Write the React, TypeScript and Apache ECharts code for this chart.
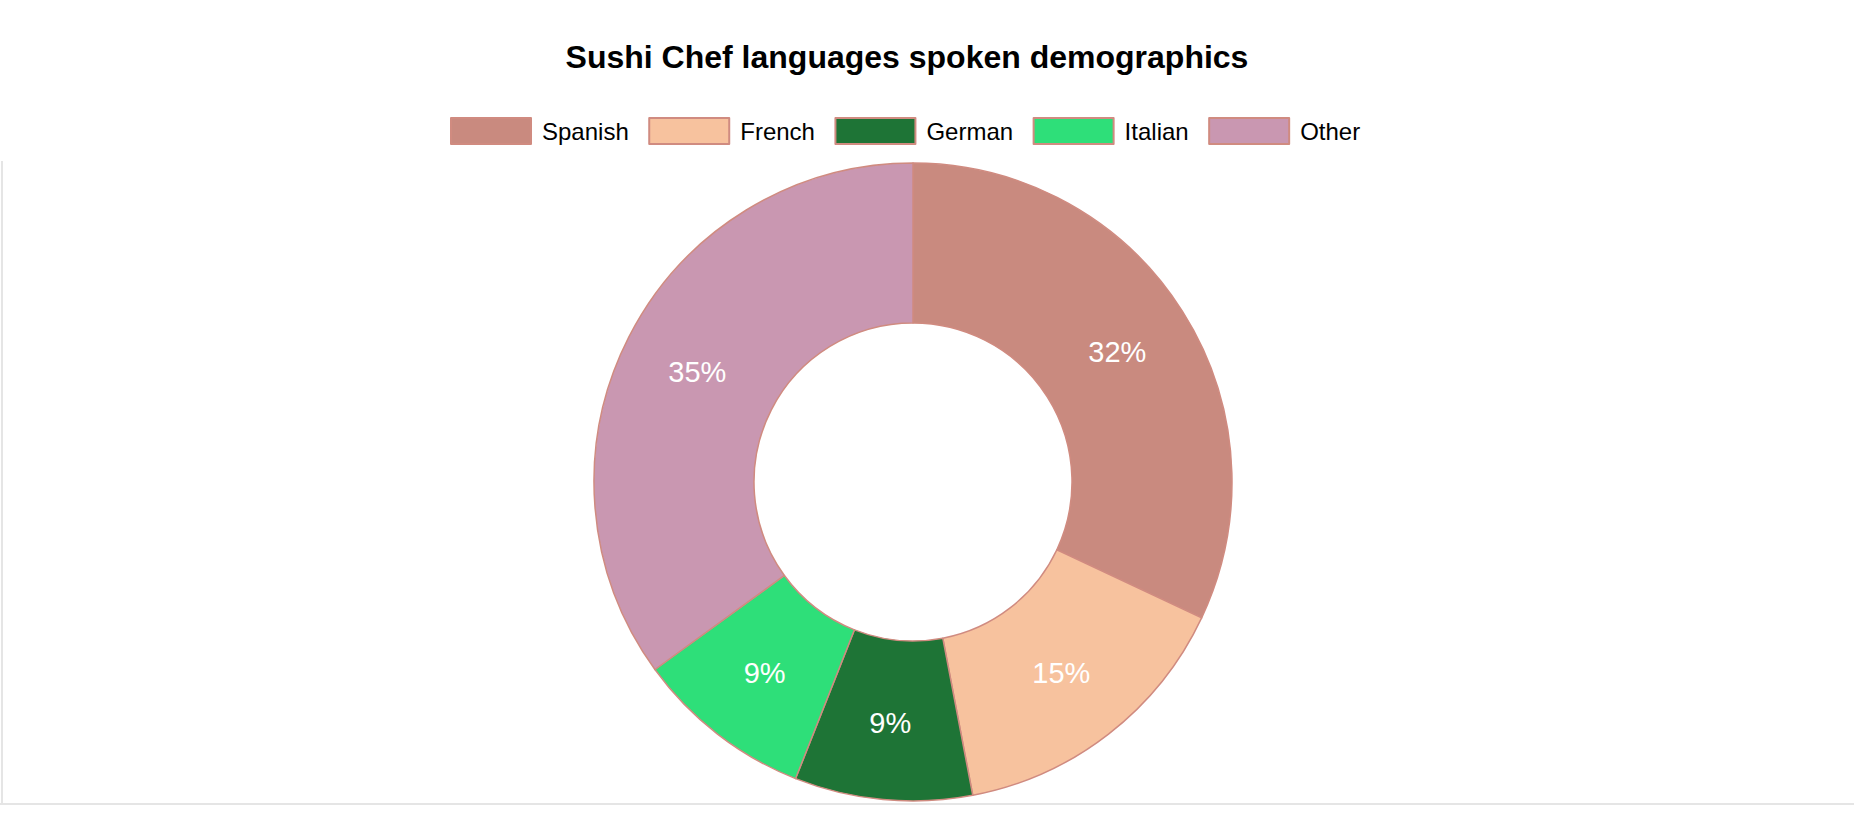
import React, { useEffect, useRef } from "react";
import * as echarts from "echarts";

const TITLE = "Sushi Chef languages spoken demographics";
const categories = ["Spanish", "French", "German", "Italian", "Other"];
const values = [32, 15, 9, 9, 35];
const colors = ["#c98a7f", "#f7c29e", "#1e7436", "#2edf79", "#c997b1"];
const BORDER = "#d08b80";
const FONT = "'Liberation Sans', Arial, Helvetica, sans-serif";

export default function App() {
  const ref = useRef<HTMLDivElement>(null);
  useEffect(() => {
    if (!ref.current) return;
    const chart = echarts.init(ref.current, undefined, { renderer: "svg" });
    const data = categories.map((name, i) => ({
      name,
      value: values[i],
      itemStyle: { color: colors[i] },
    }));
    chart.setOption({
      animation: false,
      backgroundColor: "#ffffff",
      title: {
        text: TITLE,
        left: 907,
        textAlign: "center",
        top: 40,
        padding: 0,
        textStyle: {
          fontFamily: FONT,
          fontSize: 32,
          fontWeight: "bold",
          color: "#000",
          lineHeight: 34,
        },
      },
      legend: {
        data: categories,
        left: 450,
        top: 117,
        padding: 0,
        icon: "rect",
        itemWidth: 80,
        itemHeight: 26,
        itemGap: 19.5,
        selectedMode: false,
        itemStyle: { borderColor: BORDER, borderWidth: 2 },
        textStyle: {
          fontFamily: FONT,
          fontSize: 24,
          color: "#000",
          padding: [0, 0, 0, 6],
        },
      },
      graphic: [
        {
          type: "line",
          shape: { x1: 2, y1: 161, x2: 2, y2: 804 },
          style: { stroke: "#e5e5e5", lineWidth: 2 },
          silent: true,
        },
        {
          type: "line",
          shape: { x1: 0, y1: 804, x2: 1854, y2: 804 },
          style: { stroke: "#e5e5e5", lineWidth: 2 },
          silent: true,
        },
      ],
      series: [
        {
          type: "pie",
          center: [913, 482],
          radius: [159, 319],
          startAngle: 90,
          clockwise: true,
          avoidLabelOverlap: false,
          data,
          itemStyle: { borderColor: BORDER, borderWidth: 1.5 },
          label: {
            show: true,
            position: "inside",
            color: "#ffffff",
            fontFamily: FONT,
            fontSize: 29,
            formatter: (p: any) => Math.round(p.percent) + "%",
          },
          labelLine: { show: false },
          emphasis: { disabled: true },
        },
      ],
    });
    return () => chart.dispose();
  }, []);
  return (
    <div
      ref={ref}
      style={{ position: "fixed", left: 0, top: 0, width: 1854, height: 828 }}
    />
  );
}
